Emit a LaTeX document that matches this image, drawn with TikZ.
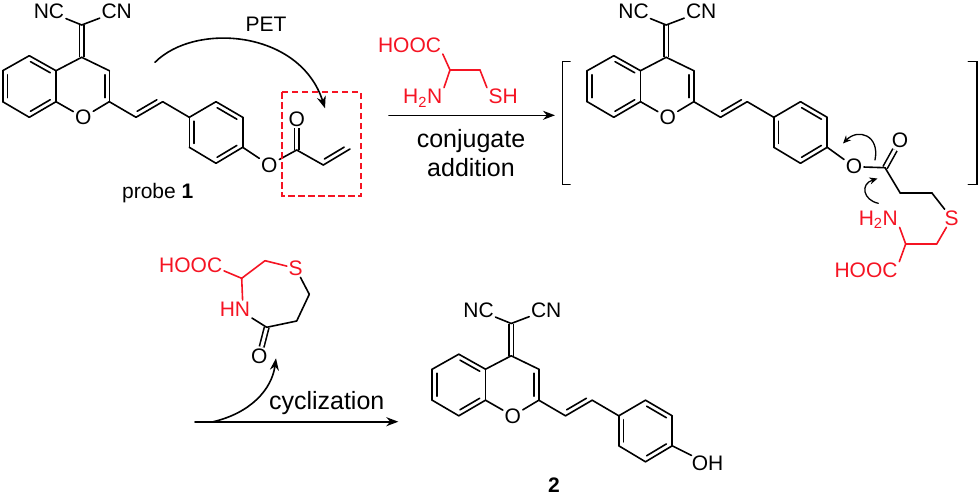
\documentclass[tikz,border=0pt]{standalone}
\usepackage{fontspec}
\setmainfont{Liberation Sans}
\usetikzlibrary{arrows.meta, calc}

\definecolor{probered}{RGB}{245,20,35}

\tikzset{
    atom/.style={inner sep=1pt, font=\fontsize{21}{21}\selectfont, text height=14.5pt, text depth=0pt},
    redatom/.style={atom, text=probered},
    caption/.style={inner sep=0pt, font=\fontsize{21}{24}\selectfont},
    condition/.style={inner sep=0pt, align=center, font=\fontsize{25}{29}\selectfont},
    dbl/.style={double, double distance=3pt, line cap=butt},
    tip/.style={-{Stealth[length=12pt,width=9pt]}},
}

% inner line of a ring double bond, on the left of a -> b
\newcommand{\innerbond}[2]{\path[-] ($(#1)!0.13!(#2)!4.6pt!90:(#2)$) edge ($(#2)!0.13!(#1)!4.6pt!-90:(#1)$);}

\begin{document}
\begin{tikzpicture}[x=1pt, y=-1pt, line width=1.6pt, line cap=round]
        \useasboundingbox (0,0) rectangle (980,495);

        % the three chromene cores
        \foreach \m/\dx/\dy in {a/0/0, b/584.5/0, c/429.5/298.5} {
        \begin{scope}[shift={(\dx,\dy)}, name prefix=\m-]
            \node[atom] (nc) at (49,11.7) {NC};
            \node[atom] (cn) at (116.7,11.7) {CN};
            \coordinate (cc) at (81.7,25);
            \coordinate (c4) at (81.7,57.3);
            \coordinate (c3) at (109.3,70.7);
            \coordinate (c2) at (109.3,101.7);
            \node[atom] (o1) at (83.3,117.3) {O};
            \coordinate (c8a) at (56,101.7);
            \coordinate (c4a) at (56,70.7);
            \coordinate (c5) at (29.3,55.7);
            \coordinate (c6) at (2.7,70.7);
            \coordinate (c7) at (2.7,101.7);
            \coordinate (c8) at (29.3,117.3);
            \coordinate (v1) at (136,117.3);
            \coordinate (v2) at (162.7,101.7);
            \coordinate (p1) at (189.3,117.3);
            \coordinate (p2) at (216,101.7);
            \coordinate (p3) at (242.7,117.3);
            \coordinate (p4) at (242.7,147.3);
            \coordinate (p5) at (216,163.3);
            \coordinate (p6) at (189.3,147.3);

            \path[-] (cc) edge[dbl] (c4);
            \path[-] (nc) edge (cc);
            \path[-] (cn) edge (cc);
            \path[-] (c4) edge (c3);
            \path[-] (c3) edge (c2);
            \path[-] (c2) edge (o1);
            \path[-] (o1) edge (c8a);
            \path[-] (c8a) edge (c4a);
            \path[-] (c4a) edge (c4);
            \path[-] (c4a) edge (c5);
            \path[-] (c5) edge (c6);
            \path[-] (c6) edge (c7);
            \path[-] (c7) edge (c8);
            \path[-] (c8) edge (c8a);
            \path[-] (c2) edge (v1);
            \path[-] (v1) edge (v2);
            \path[-] (v2) edge (p1);
            \path[-] (p1) edge (p2);
            \path[-] (p2) edge (p3);
            \path[-] (p3) edge (p4);
            \path[-] (p4) edge (p5);
            \path[-] (p5) edge (p6);
            \path[-] (p6) edge (p1);
            \innerbond{c6}{c7}
            \innerbond{c8}{c8a}
            \innerbond{c4a}{c5}
            \innerbond{c2}{c3}
            \innerbond{v1}{v2}
            \innerbond{p1}{p6}
            \innerbond{p5}{p4}
            \innerbond{p3}{p2}
        \end{scope}
        }

        % probe 1
        \node[atom] (ao) at (269.3,165) {O};
        \coordinate (ac) at (296.7,150);
        \node[atom] (aox) at (296.7,119.3) {O};
        \coordinate (av1) at (323.3,165);
        \coordinate (av2) at (350,149);
        \path[-] (ac) edge[dbl] (aox);
        \path[-] (a-p4) edge (ao);
        \path[-] (ao) edge (ac);
        \path[-] (ac) edge (av1);
        \path[-] (av1) edge (av2);
        \innerbond{av1}{av2}
        \coordinate (boxa) at (282,92);
        \coordinate (boxb) at (361,196);
        \draw[probered, line width=1.6pt, line cap=butt, dash pattern=on 6.5pt off 3.5pt] (boxa) rectangle (boxb);
        \node[caption] (probe) at (157.7,192.7) {probe \textbf{1}};
        \node[caption] (pet) at (266,24) {PET};
        \coordinate (petstart) at (155,62.3);
        \coordinate (petend) at (325,108.3);
        \draw[tip] (petstart) .. controls (195,22) and (300,30) .. (petend);

        % cysteine and first arrow
        \node[redatom] (hooc) at (409.5,45) {HOOC};
        \coordinate (ca) at (450,70);
        \coordinate (cb) at (480,70);
        \node[redatom] (sh) at (503.3,96.7) {SH};
        \node[redatom] (nh) at (422.7,96.7) {H\textsubscript{2}N};
        \path[-,probered] (hooc.south east) edge (ca);
        \path[-,probered] (ca) edge (cb);
        \path[-,probered] (cb) edge (sh.north west);
        \path[-,probered] (ca) edge (nh.north east);
        \coordinate (arrowa) at (389,115.3);
        \coordinate (arrowb) at (555,115.3);
        \draw[tip] (arrowa) -- (arrowb);
        \node[condition] (cond) at (471,153) {conjugate\\addition};

        % brackets
        \coordinate (la) at (570,61.7);
        \coordinate (lb) at (562.3,61.7);
        \coordinate (lc) at (562.3,184.5);
        \coordinate (ld) at (570,184.5);
        \coordinate (ra) at (968.3,61.7);
        \coordinate (rb) at (976.7,61.7);
        \coordinate (rc) at (976.7,184.5);
        \coordinate (rd) at (968.3,184.5);
        \draw (la) -- (lb) -- (lc) -- (ld);
        \draw (ra) -- (rb) -- (rc) -- (rd);

        % intermediate
        \node[atom] (bo) at (854,166.7) {O};
        \coordinate (bc) at (885,167.7);
        \node[atom] (box2) at (900,140.7) {O};
        \coordinate (bd) at (900,192.7);
        \coordinate (be) at (931.7,192.7);
        \node[redatom] (bs) at (951.7,218.3) {S};
        \coordinate (bf) at (936.7,244);
        \coordinate (bg) at (905.7,244);
        \node[redatom] (bn) at (878.3,218.3) {H\textsubscript{2}N};
        \node[redatom] (bh) at (866,270.7) {HOOC};
        \path[-] (bc) edge[dbl] (box2);
        \path[-] (b-p4) edge (bo);
        \path[-] (bo) edge (bc);
        \path[-] (bc) edge (bd);
        \path[-] (bd) edge (be);
        \path[-] (be) edge (bs);
        \path[-,probered] (bs) edge (bf);
        \path[-,probered] (bf) edge (bg);
        \path[-,probered] (bg) edge (bn.south east);
        \path[-,probered] (bg) edge (bh.north east);
        \coordinate (pusha) at (875,160);
        \coordinate (pushb) at (843,143.5);
        \coordinate (pushc) at (878.3,203.3);
        \coordinate (pushd) at (877.5,178.5);
        \draw[-{Stealth[length=8pt,width=7pt]}, line width=1.3pt] (pusha) .. controls (880,135) and (858,128) .. (pushb);
        \draw[-{Stealth[length=8pt,width=7pt]}, line width=1.3pt] (pushc) .. controls (863,200) and (860,184) .. (pushd);

        % thiazepane
        \node[redatom] (rh) at (190.7,265) {HOOC};
        \coordinate (ra1) at (241.7,278.3);
        \coordinate (ra2) at (265,260.7);
        \node[redatom] (rs) at (295.7,268.3) {S};
        \coordinate (ra3) at (309.3,294.3);
        \coordinate (ra4) at (296.7,321);
        \coordinate (ra5) at (266.7,327.3);
        \node[atom] (ro) at (259.3,356) {O};
        \node[redatom] (rn) at (235,309) {HN};
        \path[-] (ra5) edge[dbl] (ro);
        \path[-,probered] (rh.-10) edge (ra1);
        \path[-,probered] (ra1) edge (ra2);
        \path[-,probered] (ra2) edge (rs);
        \path[-,probered] (ra1) edge (rn.50);
        \path[-] (rs) edge (ra3);
        \path[-] (ra3) edge (ra4);
        \path[-] (ra4) edge (ra5);
        \path[-] (ra5) edge (rn.south east);

        % second arrow
        \coordinate (arrowc) at (195,421.7);
        \coordinate (arrowd) at (398.3,421.7);
        \coordinate (arrowe) at (213.3,421.7);
        \coordinate (arrowf) at (276,358.3);
        \draw[tip] (arrowc) -- (arrowd);
        \draw[tip] (arrowe) .. controls (250,413) and (271.7,390) .. (arrowf);
        \node[condition] (cycl) at (326.7,403.3) {cyclization};

        % product 2
        \node[atom, anchor=west, inner sep=0pt] (coh) at (691,463.5) {OH};
        \path[-] (c-p4) edge (coh);
        \node[caption, font=\fontsize{21}{24}\selectfont\bfseries] (two) at (554,485) {2};
    \end{tikzpicture}
\end{document}
